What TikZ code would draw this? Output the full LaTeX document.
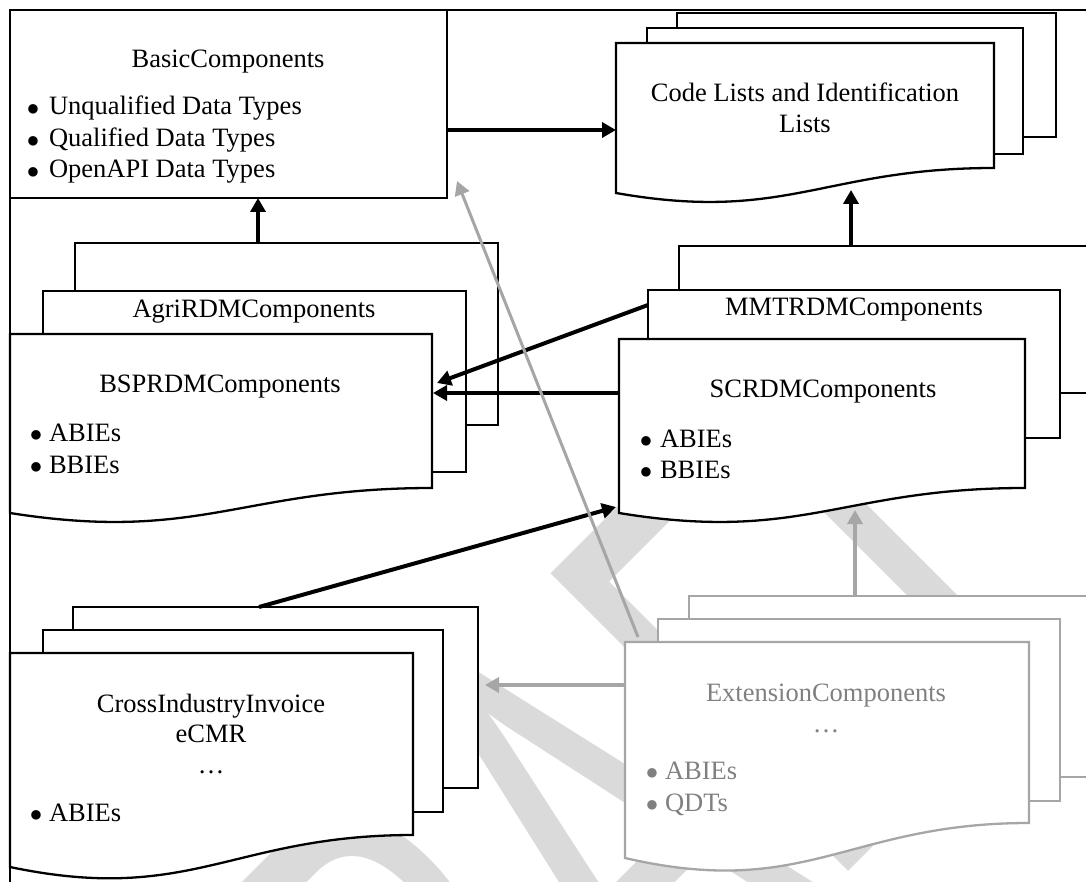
\documentclass[tikz,border=0pt]{standalone}
\usepackage{fontspec}
\usepackage{graphicx}
\setmainfont{Liberation Serif}
\newfontfamily\wmfont{Carlito}
\usetikzlibrary{arrows.meta,fit}
\definecolor{wm}{RGB}{218,218,218}
\definecolor{lg}{RGB}{166,166,166}
\definecolor{gt}{RGB}{128,128,128}
\newcommand\bigbul{\raisebox{-7.5pt}{\scalebox{1.5}{\textbullet}}}
\begin{document}
\begin{tikzpicture}[x=1pt,y=-1pt,
  sheet/.style={draw=black, fill=white, line width=2.3pt, inner sep=0pt, outer sep=0pt},
  gsheet/.style={draw=lg, fill=white, line width=2.3pt, inner sep=0pt, outer sep=0pt},
  hid/.style={draw=none, fill=none, inner sep=0pt, outer sep=0pt},
  txt/.style={inner sep=0pt, outer sep=0pt, font=\fontsize{26.5}{31}\selectfont, anchor=base},
  ltxt/.style={txt, anchor=base west},
  gtxt/.style={txt, text=gt},
  gltxt/.style={ltxt, text=gt},
  arr/.style={line width=4pt, -{Triangle[length=14pt,width=15pt]}},
  garr/.style={line width=3.5pt, draw=lg, -{Triangle[length=14pt,width=15pt]}}
]
\useasboundingbox (0,0) rectangle (1086,882);
\clip (0,0) rectangle (1086,882);

% watermark
\node[inner sep=0pt, outer sep=0pt, anchor=base west, rotate=45, text=wm] (wmark) at (338,1382)
  {\wmfont\fontsize{400}{400}\selectfont\scalebox{1}[1.64]{DRAFT}};

% frame
\draw[line width=2.3pt] (10,882) -- (10,10) -- (1086,10);

% BasicComponents
\node[sheet, fit={(10,10) (447,198)}] (basic) {};

% Code lists stack
\node[sheet, fit={(677,13) (1056,137)}] (codeB) {};
\node[sheet, fit={(647,28) (1023,154)}] (codeM) {};
\draw[sheet] (616,43) -- (994,43) -- (994,168) .. controls (824,168) and (786,223) .. (616,193) -- cycle;
\node[hid, fit={(616,43) (994,193)}] (codeF) {};

% BSPRDM stack
\node[sheet, fit={(75,243) (498,425)}] (bspB) {};
\node[sheet, fit={(43,291) (466,472)}] (bspM) {};
\draw[sheet] (10,334) -- (432,334) -- (432,488) .. controls (242,488) and (200,543) .. (10,513) -- cycle;
\node[hid, fit={(10,334) (432,513)}] (bspF) {};

% MMTR / SCRDM stack
\node[sheet, fit={(679,246) (1110,393)}] (mmB) {};
\node[sheet, fit={(648,290) (1060,438)}] (mmM) {};
\draw[sheet] (619,339) -- (1025,339) -- (1025,488) .. controls (842,488) and (802,543) .. (619,513) -- cycle;
\node[hid, fit={(619,339) (1025,513)}] (scrF) {};

% CrossIndustry stack
\node[sheet, fit={(73,607) (478,788)}] (ciB) {};
\node[sheet, fit={(43,630) (443,812)}] (ciM) {};
\draw[sheet] (10,653) -- (413,653) -- (413,835) .. controls (232,835) and (191,905) .. (10,867) -- cycle;
\node[hid, fit={(10,653) (413,867)}] (ciF) {};

% Extension stack
\node[gsheet, fit={(689,596) (1110,777)}] (extB) {};
\node[gsheet, fit={(658,619) (1060,801)}] (extM) {};
\draw[gsheet] (625,642) -- (1029,642) -- (1029,823) .. controls (847,823) and (807,900) .. (625,858) -- cycle;
\node[hid, fit={(625,642) (1029,858)}] (extF) {};

% texts
\node[txt] (tBasic) at (228,68) {BasicComponents};
\node[ltxt] (bB1) at (27,115) {\bigbul};
\node[ltxt] (tB1) at (49,115) {Unqualified Data Types};
\node[ltxt] (bB2) at (27,147) {\bigbul};
\node[ltxt] (tB2) at (49,147) {Qualified Data Types};
\node[ltxt] (bB3) at (27,178) {\bigbul};
\node[ltxt] (tB3) at (49,178) {OpenAPI Data Types};

\node[txt] (tCode1) at (805,102) {Code Lists and Identification};
\node[txt] (tCode2) at (805,133) {Lists};

\node[txt] (tAgri) at (254,318) {AgriRDMComponents};
\node[txt] (tBsp) at (220,392) {BSPRDMComponents};
\node[ltxt] (bS1) at (29,441) {\bigbul};
\node[ltxt] (tS1) at (49,441) {ABIEs};
\node[ltxt] (bS2) at (29,473) {\bigbul};
\node[ltxt] (tS2) at (49,473) {BBIEs};

\node[txt] (tMm) at (854,316) {MMTRDMComponents};
\node[txt] (tScr) at (823,397) {SCRDMComponents};
\node[ltxt] (bM1) at (639,447) {\bigbul};
\node[ltxt] (tM1) at (660,447) {ABIEs};
\node[ltxt] (bM2) at (639,478) {\bigbul};
\node[ltxt] (tM2) at (660,478) {BBIEs};

\node[txt] (tCi1) at (211,712) {CrossIndustryInvoice};
\node[txt] (tCi2) at (211,742) {eCMR};
\node[txt] (tCi3) at (211,773) {\ldots};
\node[ltxt] (bC1) at (29,821) {\bigbul};
\node[ltxt] (tC1) at (49,821) {ABIEs};

\node[gtxt] (tExt1) at (826,701) {ExtensionComponents};
\node[gtxt] (tExt2) at (826,732) {\ldots};
\node[gltxt] (bE1) at (645,779) {\bigbul};
\node[gltxt] (tE1) at (665,779) {ABIEs};
\node[gltxt] (bE2) at (645,811) {\bigbul};
\node[gltxt] (tE2) at (665,811) {QDTs};

% connectors
\draw[arr] (basic.east |- 0,130) -- (codeF.west |- 0,130);
\draw[arr] (bspB.north -| 258,0) -- (basic.south -| 258,0);
\coordinate (codeWave) at (851,190);
\draw[arr] (mmB.north -| codeWave) -- (codeWave);
\draw[arr] (mmM.west |- 0,305) -- ([xshift=5pt]bspF.east |- 0,383);
\draw[arr] (scrF.west |- 0,393) -- ([xshift=1pt]bspF.east |- 0,393);
\draw[arr] (ciB.north -| 259,0) -- ([xshift=-3pt]scrF.west |- 0,507);
\draw[garr] (extF.west |- 0,685) -- ([xshift=7pt]ciB.east |- 0,685);
\coordinate (scrWave) at (855,510);
\draw[garr] (extB.north -| scrWave) -- (scrWave);
\draw[garr, line width=3pt] ([shift={(13,-5)}]extF.north west) -- ([shift={(10,-17)}]basic.south east);
\end{tikzpicture}
\end{document}
